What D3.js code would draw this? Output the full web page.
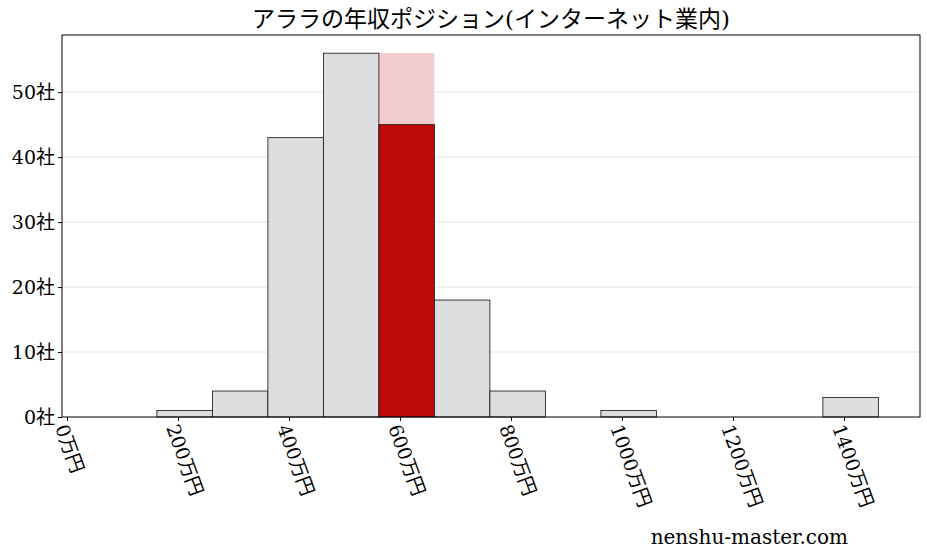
<!DOCTYPE html>
<html><head><meta charset="utf-8">
<script src="https://cdn.jsdelivr.net/npm/d3@7"></script>
<style>body{margin:0;background:#fff}text{font-family:"DejaVu Serif","Liberation Serif","Noto Sans CJK JP",serif}</style>
</head><body><svg id="c" width="927" height="557"></svg>
<script>
const binStarts=[162,262,362,462,562,662,762,962,1362];
const counts=[1,4,43,56,45,18,4,1,3];
const highlightIndex=4;
const highlightBackground=56;
const xTicks=[0,200,400,600,800,1000,1200,1400];
const yTicks=[0,10,20,30,40,50];
const title="アララの年収ポジション(インターネット業内)";
const svg=d3.select("#c");
const m={l:62,r:920,t:35,b:417};
const x=d3.scaleLinear().domain([-9,1537]).range([m.l,m.r]);
const y=d3.scaleLinear().domain([0,58.8]).range([m.b,m.t]);
svg.append("g").selectAll("line").data(yTicks.slice(1)).join("line")
 .attr("x1",m.l).attr("x2",m.r).attr("y1",d=>y(d)).attr("y2",d=>y(d)).attr("stroke","#ddd").attr("stroke-width",0.8);
const bw=100;
svg.append("rect").attr("x",x(binStarts[highlightIndex])).attr("width",x(bw)-x(0)).attr("y",y(highlightBackground)).attr("height",y(0)-y(highlightBackground)).attr("fill","#f2cccc");
svg.append("g").selectAll("rect").data(counts).join("rect")
 .attr("x",(d,i)=>x(binStarts[i])).attr("width",x(bw)-x(0))
 .attr("y",d=>y(d)).attr("height",d=>y(0)-y(d))
 .attr("fill",(d,i)=>i===highlightIndex?"#bf0a0a":"#dcdddf").attr("stroke","#111").attr("stroke-width",0.8);
svg.append("rect").attr("x",m.l).attr("y",m.t).attr("width",m.r-m.l).attr("height",m.b-m.t).attr("fill","none").attr("stroke","#000").attr("stroke-width",1);
const xa=svg.append("g").attr("transform",`translate(0,${m.b})`).call(d3.axisBottom(x).tickValues(xTicks).tickSize(4).tickFormat(d=>d+"万円"));
xa.select(".domain").remove();
xa.selectAll("text").attr("font-size",19).attr("text-anchor","start").attr("dy",0).attr("dx",0)
 .attr("transform","translate(-6,8) rotate(70)").style("font-family",'"DejaVu Serif","Noto Sans CJK JP",serif');
const ya=svg.append("g").attr("transform",`translate(${m.l},0)`).call(d3.axisLeft(y).tickValues(yTicks).tickSize(4).tickFormat(d=>d+"社"));
ya.select(".domain").remove();
ya.selectAll("text").attr("font-size",19);
svg.append("text").attr("x",491).attr("y",27).attr("text-anchor","middle").attr("font-size",23).text(title);
svg.append("text").attr("x",848).attr("y",544).attr("text-anchor","end").attr("font-size",20).text("nenshu-master.com");
</script></body></html>
